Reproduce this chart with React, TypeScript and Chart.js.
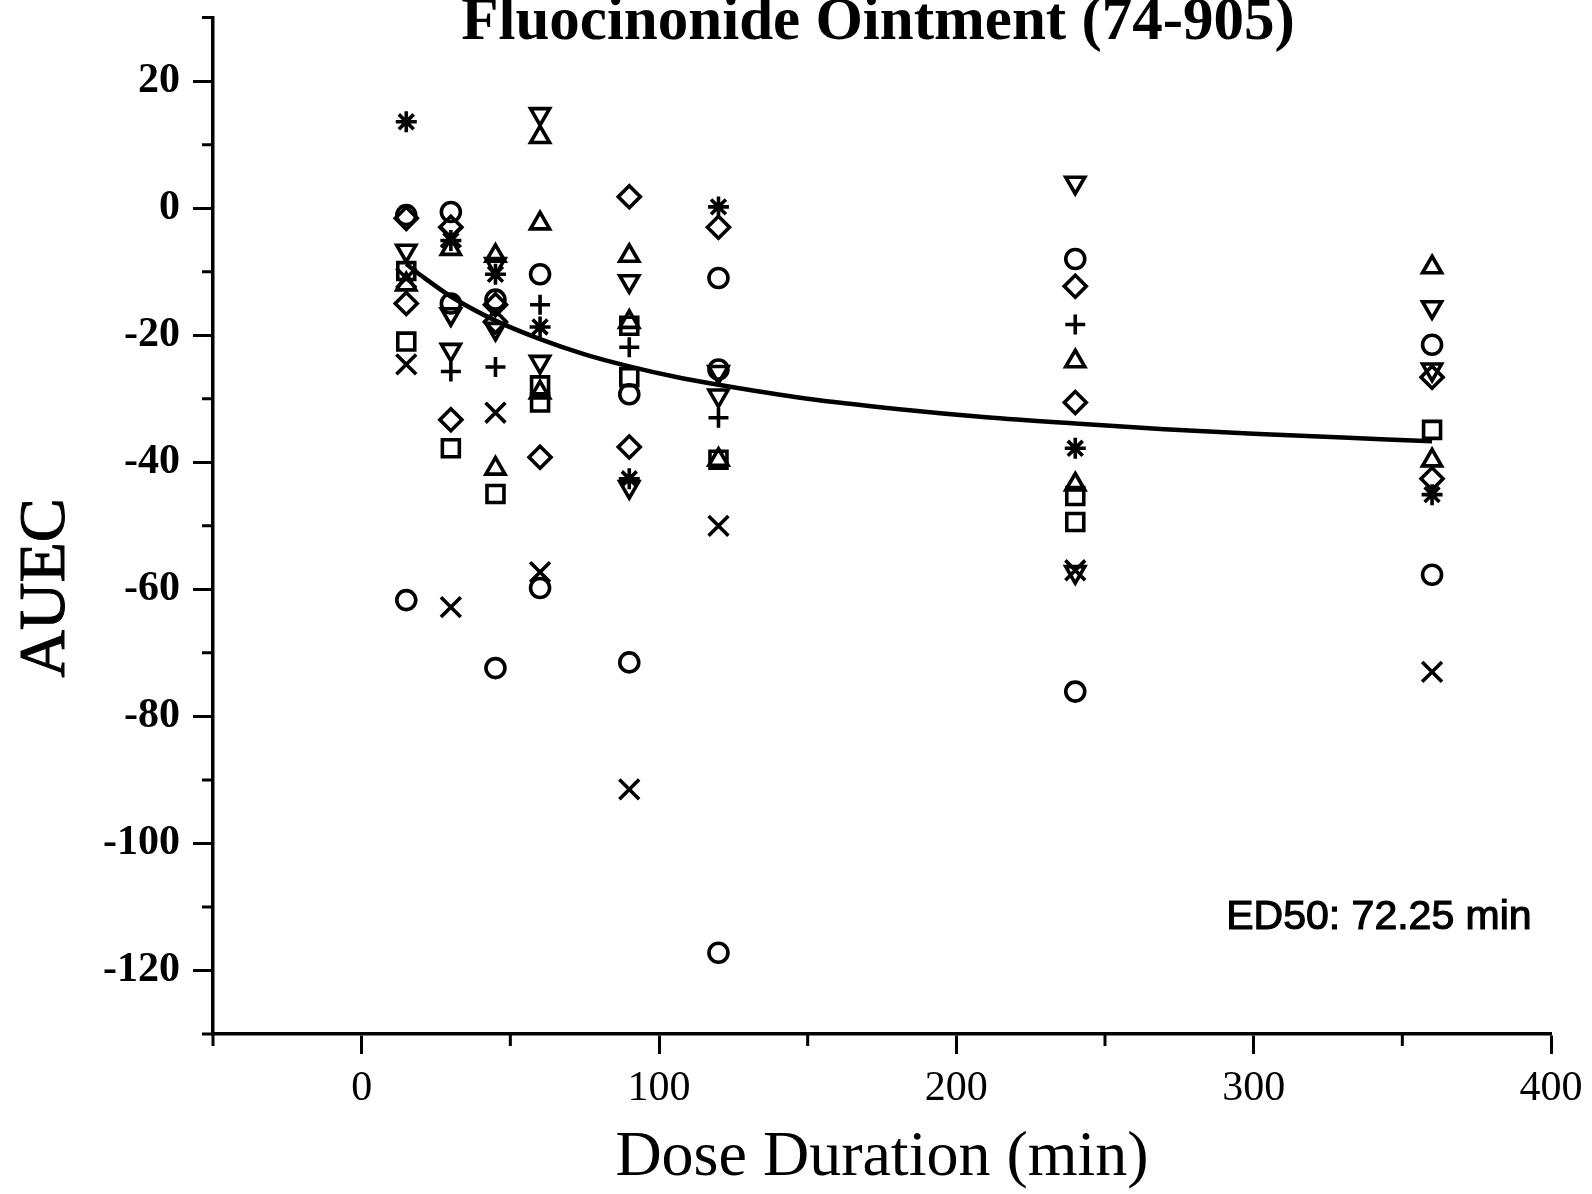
import React, { useEffect, useRef } from "react";
import { Chart, registerables } from "chart.js";

Chart.register(...registerables);

const chartTitle = "Fluocinonide Ointment (74-905)";
const xAxisTitle = "Dose Duration (min)";
const yAxisTitle = "AUEC";
const ed50Label = "ED50: 72.25 min";

const xTickValues = [0, 100, 200, 300, 400];
const xMinorTickValues = [-50, 50, 150, 250, 350];
const yTickValues = [-120, -100, -80, -60, -40, -20, 0, 20];
const yMinorTickValues = [-130, -110, -90, -70, -50, -30, -10, 10, 30];

// Observed points, grouped by marker
const circleX = [15, 15, 30, 30, 45, 45, 60, 60, 90, 90, 120, 120, 120, 240, 240, 360, 360];
const circleY = [-1.1, -61.7, -0.6, -15, -14.4, -72.4, -10.4, -59.8, -29.3, -71.5, -11, -25.4, -117.2, -8, -76.1, -21.5, -57.7];

const squareX = [15, 15, 30, 45, 60, 60, 90, 90, 120, 240, 240, 360];
const squareY = [-9.9, -21, -37.8, -45, -27.9, -30.6, -18.5, -26.6, -39.6, -45.3, -49.4, -34.9];

const triangleX = [15, 30, 45, 45, 60, 60, 60, 90, 90, 120, 240, 240, 360, 360];
const triangleY = [-12, -6.4, -7.5, -41, 11.2, -2.4, -29, -7.5, -17.9, -39.6, -24.1, -43.5, -9.3, -39.7];

const invTriangleX = [15, 30, 30, 45, 45, 60, 60, 90, 90, 120, 120, 240, 240, 360, 360];
const invTriangleY = [-6.7, -16.7, -22.3, -8.8, -19, 14.8, -24.2, -11.5, -43.9, -25.8, -29.5, 4, -57.3, -15.6, -25.4];

const diamondX = [15, 15, 30, 30, 45, 45, 60, 90, 90, 120, 240, 240, 360, 360];
const diamondY = [-1.6, -15, -3, -33.3, -15.2, -17.9, -39.2, 1.8, -37.6, -3, -12.3, -30.6, -26.6, -42.6];

const crossX = [15, 15, 30, 30, 45, 60, 90, 120, 240, 360];
const crossY = [-11, -24.6, -4.6, -62.8, -32.2, -57.3, -91.5, -50, -57, -73];

const plusX = [30, 45, 60, 90, 120, 240];
const plusY = [-25.7, -25, -15.2, -21.9, -33, -18.3];

const asteriskX = [15, 30, 45, 60, 90, 120, 240, 360];
const asteriskY = [13.6, -5.1, -10.4, -18.7, -42.6, 0.2, -37.8, -45.1];

// Fitted curve
const fitX = [15, 20, 30, 45, 60, 75, 90, 105, 120, 150, 180, 210, 240, 270, 300, 330, 360];
const fitY = [-8.8, -10.6, -13.9, -17.7, -20.6, -23.0, -24.9, -26.5, -27.8, -30.0, -31.6, -32.9, -33.9, -34.8, -35.5, -36.1, -36.7];

const toPoints = (xs: number[], ys: number[]) => xs.map((x, i) => ({ x, y: ys[i] }));

const markerSet = (
  label: string,
  xs: number[],
  ys: number[],
  style: string,
  radius: number,
  rotation = 0
) => ({
  label,
  data: toPoints(xs, ys),
  showLine: false,
  pointStyle: style,
  pointRotation: rotation,
  pointRadius: radius,
  pointHoverRadius: radius,
  pointBorderWidth: 3.6,
  pointBorderColor: "#000",
  pointBackgroundColor: "rgba(0,0,0,0)",
  borderColor: "#000",
  backgroundColor: "rgba(0,0,0,0)",
});

const decorPlugin = {
  id: "decor",
  afterDraw(chart: any) {
    const ctx = chart.ctx;
    const xs = chart.scales.x;
    const ys = chart.scales.y;
    ctx.save();
    ctx.strokeStyle = "#000";
    ctx.lineWidth = 3;
    ctx.beginPath();
    for (const v of yMinorTickValues) {
      const py = ys.getPixelForValue(v);
      ctx.moveTo(ys.right - 11, py);
      ctx.lineTo(ys.right, py);
    }
    for (const v of xMinorTickValues) {
      const px = xs.getPixelForValue(v);
      ctx.moveTo(px, xs.top);
      ctx.lineTo(px, xs.top + 12);
    }
    ctx.stroke();

    ctx.fillStyle = "#000";
    ctx.font = 'bold 61px "Liberation Serif"';
    ctx.textAlign = "center";
    ctx.textBaseline = "alphabetic";
    ctx.fillText(chartTitle, 878, 39);

    // y axis title
    ctx.save();
    ctx.translate(47, 588);
    ctx.rotate(-Math.PI / 2);
    ctx.font = '66px "Liberation Serif"';
    ctx.textAlign = "center";
    ctx.textBaseline = "middle";
    ctx.fillText(yAxisTitle, 0, 0);
    ctx.lineWidth = 1;
    ctx.strokeText(yAxisTitle, 0, 0);
    ctx.restore();

    ctx.font = '41px "Liberation Sans"';
    ctx.textAlign = "right";
    ctx.textBaseline = "alphabetic";
    const ex = xs.getPixelForValue(393.5);
    const ey = ys.getPixelForValue(-113.5);
    ctx.fillText(ed50Label, ex, ey);
    ctx.lineWidth = 1.2;
    ctx.strokeText(ed50Label, ex, ey);
    ctx.restore();
  },
};

export default function App() {
  const canvasRef = useRef<HTMLCanvasElement | null>(null);

  useEffect(() => {
    if (!canvasRef.current) return;
    const chart = new Chart(canvasRef.current, {
      type: "scatter",
      data: {
        datasets: [
          {
            label: "fit",
            data: toPoints(fitX, fitY),
            showLine: true,
            pointRadius: 0,
            borderColor: "#000",
            borderWidth: 4.5,
            tension: 0.4,
            cubicInterpolationMode: "monotone",
            fill: false,
          } as any,
          markerSet("circle", circleX, circleY, "circle", 9.5),
          markerSet("square", squareX, squareY, "rect", 12),
          markerSet("triangle", triangleX, triangleY, "triangle", 11),
          markerSet("invTriangle", invTriangleX, invTriangleY, "triangle", 11, 180),
          markerSet("diamond", diamondX, diamondY, "rectRot", 11),
          markerSet("cross", crossX, crossY, "crossRot", 14),
          markerSet("plus", plusX, plusY, "cross", 10),
          markerSet("asterisk", asteriskX, asteriskY, "star", 10.5),
        ],
      },
      options: {
        responsive: false,
        animation: false,
        events: [],
        layout: { padding: { top: 14, right: 41, bottom: 0, left: 0 } },
        plugins: {
          legend: { display: false },
          tooltip: { enabled: false },
          title: { display: false },
        },
        scales: {
          x: {
            type: "linear",
            min: -50,
            max: 400,
            afterBuildTicks: (s: any) => {
              s.ticks = xTickValues.map((v) => ({ value: v }));
            },
            afterFit: (s: any) => {
              s.height = 160;
              s.paddingLeft = 0;
              s.paddingRight = 0;
            },
            grid: {
              drawOnChartArea: false,
              drawTicks: true,
              tickLength: 20,
              tickWidth: 3,
              tickColor: "#000",
            },
            border: { display: true, color: "#000", width: 3.5 },
            ticks: {
              color: "#000",
              font: { family: "Liberation Serif", size: 42 },
              padding: 10,
              maxRotation: 0,
              autoSkip: false,
            },
            title: {
              display: true,
              text: xAxisTitle,
              color: "#000",
              font: { family: "Liberation Serif", size: 64, lineHeight: 1 },
              padding: { top: 0, bottom: 4 },
            },
          },
          y: {
            type: "linear",
            min: -130,
            max: 30,
            afterBuildTicks: (s: any) => {
              s.ticks = yTickValues.map((v) => ({ value: v }));
            },
            afterFit: (s: any) => {
              s.width = 213;
              s.paddingTop = 0;
              s.paddingBottom = 0;
            },
            grid: {
              drawOnChartArea: false,
              drawTicks: true,
              tickLength: 20,
              tickWidth: 3,
              tickColor: "#000",
            },
            border: { display: true, color: "#000", width: 3.5 },
            ticks: {
              color: "#000",
              font: { family: "Liberation Serif", size: 42, weight: "bold" },
              padding: 13,
              autoSkip: false,
            },
            title: { display: false },
          },
        },
      } as any,
      plugins: [decorPlugin],
    });
    return () => chart.destroy();
  }, []);

  return (
    <div style={{ position: "absolute", left: 0, top: 0, width: 1592, height: 1194, background: "#fff" }}>
      <canvas ref={canvasRef} width={1592} height={1194} style={{ display: "block" }} />
    </div>
  );
}
